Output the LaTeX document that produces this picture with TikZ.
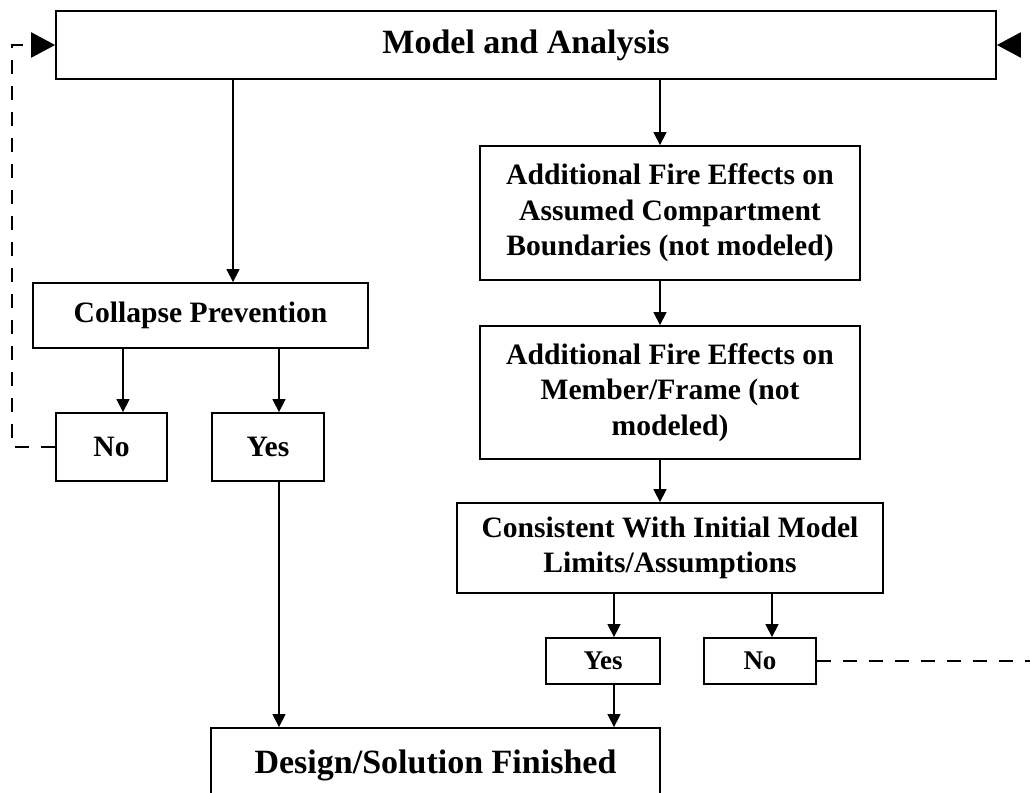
\documentclass[tikz,border=0pt]{standalone}
\usepackage{fontspec}
\setmainfont{Liberation Serif}
\usetikzlibrary{arrows.meta}

\begin{document}
\begin{tikzpicture}[x=0.5pt,y=-0.5pt,>=Latex,line join=miter]
  \tikzset{
    box/.style={draw,line width=0.9pt,inner sep=0pt,align=center,
      font=\bfseries\fontsize{14.8}{17.8}\selectfont},
    bigbox/.style={box,font=\bfseries\fontsize{17}{20}\selectfont},
    answer/.style={box,font=\bfseries\fontsize{13.5}{16}\selectfont},
    flow/.style={-{Triangle[length=6.5pt,width=6.5pt]},line width=0.7pt},
    loopback/.style={-{Triangle[length=12pt,width=12.5pt]},line width=1.2pt,
      dash pattern=on 7pt off 6pt}
  }
  \useasboundingbox (0,0) rectangle (1030,793);
  \clip (0,0) rectangle (1030,793);

  % boxes
  \node[bigbox,minimum width=470pt,minimum height=34pt] (model) at (526,45) {Model and Analysis};
  \node[box,minimum width=167.5pt,minimum height=32.5pt] (colap) at (200.5,315.5) {Collapse Prevention};
  \node[box,minimum width=55.5pt,minimum height=34pt] (nol) at (111.5,447) {No};
  \node[box,minimum width=56pt,minimum height=34pt] (yesl) at (268,447) {Yes};
  \node[box,minimum width=190pt,minimum height=67pt] (fireA) at (670,213)
    {Additional Fire Effects on\\Assumed Compartment\\Boundaries (not modeled)};
  \node[box,minimum width=190pt,minimum height=66.5pt] (fireB) at (670,392.5)
    {Additional Fire Effects on\\Member/Frame (not\\modeled)};
  \node[box,minimum width=213pt,minimum height=45pt] (consist) at (670,548)
    {Consistent With Initial Model\\Limits/Assumptions};
  \node[answer,minimum width=57pt,minimum height=23pt] (yesr) at (603,661) {Yes};
  \node[answer,minimum width=56pt,minimum height=23pt] (nor) at (760,661) {No};
  \node[bigbox,minimum width=224.5pt,minimum height=37pt] (done) at (435.5,765) {Design/Solution Finished};

  % flow
  \draw[flow] (233,0 |- model.south) -- (233,0 |- colap.north);
  \draw[flow] (660,0 |- model.south) -- (660,0 |- fireA.north);
  \draw[flow] (660,0 |- fireA.south) -- (660,0 |- fireB.north);
  \draw[flow] (660,0 |- fireB.south) -- (660,0 |- consist.north);
  \draw[flow] (123,0 |- colap.south) -- (123,0 |- nol.north);
  \draw[flow] (279,0 |- colap.south) -- (279,0 |- yesl.north);
  \draw[flow] (279,0 |- yesl.south) -- (279,0 |- done.north);
  \draw[flow] (614,0 |- consist.south) -- (614,0 |- yesr.north);
  \draw[flow] (772,0 |- consist.south) -- (772,0 |- nor.north);
  \draw[flow] (614,0 |- yesr.south) -- (614,0 |- done.north);

  % back to the model
  \draw[loopback] (nol.west) -- (12,0 |- nol.west) |- (model.west);
  \draw[loopback] (nor.east) -- (1040,0 |- nor.east) |- (model.east);
\end{tikzpicture}
\end{document}
